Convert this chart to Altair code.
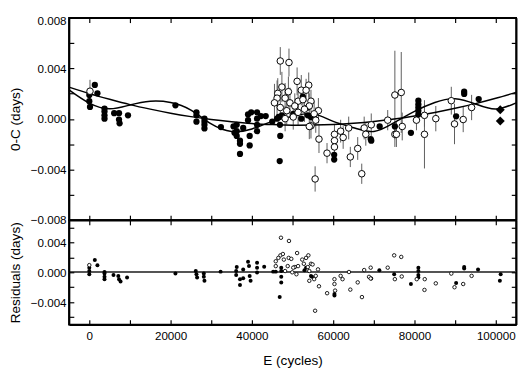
import altair as alt
import pandas as pd

# ---------------- top panel: O-C data ----------------
fill_E = [0, 0, 170, 1360, 2000, 3740, 3740, 3740, 3740, 6120, 7310, 7310, 7450, 9520,
          21190, 26360, 26360, 26360, 28330, 28330, 28330, 28330, 32380, 35480, 35720,
          36260, 36260, 36260, 37070, 37070, 37070, 37860, 39050, 39050, 39450, 39450,
          41260, 41260, 41260, 41260, 39830, 42210, 43400, 45000, 46190, 46600, 46900,
          46980, 46840, 47380, 50170, 52520, 52140, 53740, 53740, 54530, 55310, 60240,
          60240, 69220, 69360, 71430, 75170, 79120, 80950, 80950, 80950, 80950, 80950,
          90240, 92220, 92220, 95790]
fill_OC = [0.00189, 0.00140, 0.00095, 0.00269, 0.00202, 0.00082, 0.00058, 0.00028, 0.00002,
           0.00045, 0.00045, -0.00005, -0.00035, 0.00028, 0.00107, 0.00052, 0.00028, -0.00022,
           0.00002, -0.00022, -0.00047, -0.00075, -0.00065, -0.00060, -0.00110, -0.00047,
           -0.00097, -0.00135, -0.00172, -0.00197, -0.00277, -0.00072, 0.00035, -0.00010,
           -0.00135, -0.00210, 0.00052, 0.00002, -0.00047, -0.00097, 0.00052, 0.00022, 0.00022,
           -0.00022, 0.00002, 0.00015, -0.00047, -0.00135, -0.00334, 0.00028, 0.00040, 0.00177,
           0.00002, 0.00090, 0.00028, 0.00015, 0.00007, -0.00284, -0.00322, -0.00160, -0.00172,
           -0.00060, -0.00060, -0.00110, 0.00144, 0.00114, 0.00090, 0.00065, 0.00035, 0.00020,
           0.00215, 0.00197, 0.00157]

open_E = [170, 46980, 49120, 51120, 53980, 47380, 46360, 48980, 52150, 53330, 46190, 48170,
          45550, 49360, 51360, 52550, 54530, 46980, 50550, 54120, 48570, 51360, 52930, 56360,
          55310, 48170, 50170, 54530, 55710, 54120, 56500, 55550, 58480, 60310, 60310, 60310,
          61830, 62450, 63810, 64210, 66030, 67020, 67620, 68020, 69360, 73410, 75170, 76740,
          75170, 75550, 76980, 80480, 82450, 82450, 85240, 89050, 89840, 91980, 94050]
open_OC = [0.00219, 0.00458, 0.00446, 0.00297, 0.00267, 0.00252, 0.00202, 0.00215, 0.00227,
           0.00227, 0.00164, 0.00164, 0.00127, 0.00127, 0.00140, 0.00152, 0.00140, 0.00090,
           0.00102, 0.00102, 0.00065, 0.00052, 0.00077, 0.00065, 0.00040, 0.00002, 0.00015,
           -0.00055, -0.00010, -0.00060, -0.00160, -0.00475, -0.00271, -0.00122, -0.00172,
           -0.00222, -0.00097, -0.00147, -0.00072, -0.00301, -0.00234, -0.00434, -0.00072,
           -0.00122, -0.00047, -0.00010, 0.00189, 0.00209, -0.00122, -0.00122, -0.00060,
           -0.00010, 0.00028, -0.00122, 0.00002, 0.00144, -0.00040, -0.00005, 0.00090]
open_err = [0.0009, 0.0011, 0.0011, 0.0011, 0.0010, 0.0012, 0.0012, 0.0012, 0.0012, 0.0009,
            0.0014, 0.0012, 0.0015, 0.0012, 0.0010, 0.0010, 0.0009, 0.0010, 0.0010, 0.0010,
            0.0011, 0.0010, 0.0010, 0.0010, 0.0010, 0.0010, 0.0010, 0.0010, 0.0010, 0.0010,
            0.0011, 0.0010, 0.0008, 0.0008, 0.0009, 0.0009, 0.0009, 0.0009, 0.0009, 0.0008,
            0.0009, 0.0008, 0.0009, 0.0009, 0.0009, 0.0008, 0.0035, 0.0032, 0.0010, 0.0010,
            0.0011, 0.0008, 0.0009, 0.0027, 0.0010, 0.0011, 0.0016, 0.0010, 0.0010]

dia_E = [101100, 101100]
dia_OC = [0.00073, -0.00017]

# fitted curves, every 5000 cycles
curve_E = [-5000, 0, 5000, 10000, 15000, 20000, 25000, 30000, 35000, 40000, 45000, 50000,
           55000, 60000, 65000, 70000, 75000, 80000, 85000, 90000, 95000, 100000, 105000]
quad_OC = [0.00251, 0.00200, 0.00155, 0.00113, 0.00077, 0.00045, 0.00018, -0.00005, -0.00023,
           -0.00037, -0.00045, -0.00050, -0.00049, -0.00044, -0.00034, -0.00020, -0.00001,
           0.00023, 0.00051, 0.00084, 0.00121, 0.00163, 0.00210]
ltte_OC = [0.00230, 0.00125, 0.00080, 0.00110, 0.00140, 0.00130, 0.00070, -0.00040, -0.00100,
           -0.00080, -0.00020, 0.00020, 0.00040, -0.00020, -0.00070, -0.00100, -0.00030,
           0.00060, 0.00130, 0.00160, 0.00118, 0.00078, 0.00127]

# ---------------- bottom panel: residuals ----------------
resf_E = [0, 0, 0, 1360, 2000, 3740, 3740, 3740, 3740, 5950, 7140, 7310, 7690, 9290, 21190,
          26190, 26360, 26520, 28170, 28170, 28330, 32300, 36270, 36130, 36130, 37070, 37070,
          37860, 37860, 39050, 39290, 39450, 39680, 41270, 41270, 41270, 43020, 45240, 47220,
          47220, 47220, 47220, 46840, 45870, 52930, 53330, 54530, 54770, 60310, 60310, 69360,
          71360, 75000, 79120, 80950, 80950, 80950, 80950, 90240, 92220, 92220, 95630, 101200,
          101000]
resf_R = [0.00062, 0.00017, -0.00026, 0.00166, 0.00096, 0.00004, -0.00017, -0.00061, -0.00092,
          -0.00035, -0.00048, -0.00092, -0.00122, -0.00070, -0.00017, 0.00017, -0.00026,
          -0.00070, -0.00017, -0.00061, -0.00114, 0.00009, 0.00070, 0.00017, -0.00035, -0.00092,
          -0.00170, 0.00039, -0.00079, 0.00140, 0.00083, -0.00048, -0.00114, 0.00127, 0.00062,
          -0.00004, 0.00075, 0.00009, 0.00062, 0.00017, -0.00061, -0.00135, -0.00332, 0.00009,
          0.00026, 0.00062, -0.00048, -0.00061, -0.00289, -0.00310, -0.00083, 0.00026, -0.00026,
          -0.00157, 0.00062, 0.00017, -0.00035, -0.00070, -0.00144, 0.00070, 0.00052, 0.00039,
          -0.00026, -0.00114]

reso_E = [0, 47150, 49120, 45870, 47030, 47620, 46510, 47860, 49050, 49690, 48810, 48170,
          50550, 49920, 45870, 51120, 50170, 50950, 51360, 52380, 52780, 53330, 53890, 53740,
          54120, 54530, 54930, 54120, 55310, 55710, 56260, 56500, 55550, 58500, 60310, 60310,
          60470, 61830, 62300, 63880, 64210, 66030, 67070, 67620, 68810, 69220, 69220, 73410,
          75000, 76740, 75170, 76860, 80550, 82520, 82450, 85240, 89050, 89840, 91980, 94050]
reso_R = [0.00096, 0.00463, 0.00420, 0.00148, 0.00227, 0.00245, 0.00193, 0.00170, 0.00193,
          0.00180, 0.00083, 0.00017, 0.00070, 0.00000, 0.00083, 0.00258, 0.00062, -0.00026,
          0.00083, 0.00170, 0.00114, 0.00193, 0.00227, 0.00070, 0.00017, 0.00114, 0.00105,
          -0.00114, -0.00092, -0.00048, 0.00039, -0.00187, -0.00515, -0.00280, -0.00092,
          -0.00157, -0.00245, -0.00048, -0.00092, 0.00004, -0.00232, -0.00135, -0.00332,
          0.00030, -0.00061, 0.00062, -0.00083, 0.00062, 0.00227, 0.00206, -0.00092, -0.00056,
          -0.00092, -0.00092, -0.00236, -0.00148, -0.00017, -0.00200, -0.00157, -0.00048]

# axis tick / label values
x_labels = [0, 20000, 40000, 60000, 80000, 100000]
x_ticks = [0, 10000, 20000, 30000, 40000, 50000, 60000, 70000, 80000, 90000, 100000]
y1_labels = [-0.008, -0.004, 0.0, 0.004, 0.008]
y1_ticks = [-0.008, -0.006, -0.004, -0.002, 0.0, 0.002, 0.004, 0.006, 0.008]
y2_labels = [-0.004, 0.0, 0.004]
y2_ticks = [-0.006, -0.004, -0.002, 0.0, 0.002, 0.004, 0.006]

# ---------------- build ----------------
W, H1, H2 = 462, 209, 108
FONT = "Liberation Sans"
xsc = alt.Scale(domain=[-5000, 105000], nice=False, zero=False)
ysc1 = alt.Scale(domain=[-0.008, 0.008], nice=False, zero=False)
ysc2 = alt.Scale(domain=[-0.007, 0.007], nice=False, zero=False)

fill_df = pd.DataFrame({"E": fill_E, "v": fill_OC})
open_df = pd.DataFrame({"E": open_E, "v": open_OC, "err": open_err})
open_df["lo"] = open_df["v"] - open_df["err"]
open_df["hi"] = open_df["v"] + open_df["err"]
dia_df = pd.DataFrame({"E": dia_E, "v": dia_OC})
curve_df = pd.concat([
    pd.DataFrame({"E": curve_E, "v": quad_OC, "fit": "quad"}),
    pd.DataFrame({"E": curve_E, "v": ltte_OC, "fit": "ltte"}),
])
resf_df = pd.DataFrame({"E": resf_E, "v": resf_R})
reso_df = pd.DataFrame({"E": reso_E, "v": reso_R})

# tick-only axes that sit on the four edges (ticks pointing inward) and draw the frame
tick_style = dict(labels=False, domain=True, domainColor="black", domainWidth=1.8,
                  grid=False, ticks=True, tickSize=5, tickColor="black", tickWidth=1.2,
                  zindex=1)
frame = alt.ViewBackground(stroke="black", strokeWidth=1.8, fill="white")


def X():
    return alt.X("E:Q", scale=xsc, axis=None)


def axis_layers(df, ysc, H, ylab, ytk, ytitle, with_xlabels, top_nudge):
    base = alt.Chart(df).mark_point(opacity=0)
    ylab_axis = dict(orient="left", values=ylab, format=".3f", ticks=False,
                     domain=False, grid=False, labelPadding=3, labelFontSize=12,
                     labelColor="black", title=ytitle, titleFontSize=14,
                     titleFontWeight="normal", titleColor="black", titlePadding=8,
                     labelFont=FONT, titleFont=FONT)
    if top_nudge:
        ylab_axis["labelOffset"] = {"condition": {"test": "datum.value > 0.0079", "value": 3},
                                    "value": 0}
    l1 = base.encode(
        x=alt.X("E:Q", scale=xsc, title=None,
                axis=alt.Axis(orient="bottom", offset=-H, values=x_ticks, **tick_style)),
        y=alt.Y("v:Q", scale=ysc, axis=alt.Axis(**ylab_axis)),
    )
    l2 = base.encode(
        x=alt.X("E:Q", scale=xsc, title=None,
                axis=alt.Axis(orient="top", offset=-H, values=x_ticks, **tick_style)),
        y=alt.Y("v:Q", scale=ysc, title=None,
                axis=alt.Axis(orient="right", offset=-W, values=ytk, **tick_style)),
    )
    if with_xlabels:
        xax = alt.X("E:Q", scale=xsc,
                    axis=alt.Axis(orient="bottom", values=x_labels, format="d", ticks=False,
                                  domain=False, grid=False, labelPadding=6, labelFontSize=12,
                                  labelColor="black", title="E (cycles)", titleFontSize=14,
                                  titleFontWeight="normal", titleColor="black",
                                  titlePadding=13, labelFont=FONT, titleFont=FONT))
    else:
        xax = alt.X("E:Q", scale=xsc, axis=None)
    l3 = base.encode(
        x=xax,
        y=alt.Y("v:Q", scale=ysc, title=None,
                axis=alt.Axis(orient="left", offset=-W, values=ytk, **tick_style)),
    )
    return [l1, l2, l3]


Y1 = lambda f="v": alt.Y(f"{f}:Q", scale=ysc1, axis=None)
Y2 = lambda f="v": alt.Y(f"{f}:Q", scale=ysc2, axis=None)

errbars = alt.Chart(open_df).mark_rule(color="#5a5a5a", strokeWidth=1).encode(
    x=X(), y=Y1("lo"), y2="hi")
curves = alt.Chart(curve_df).mark_line(color="black", strokeWidth=1.5,
                                       interpolate="natural").encode(
    x=X(), y=Y1(), detail="fit:N")
filled = alt.Chart(fill_df).mark_circle(color="black", opacity=1, size=42).encode(
    x=X(), y=Y1())
opened = alt.Chart(open_df).mark_point(shape="circle", filled=True, fill="white",
                                       stroke="black", strokeWidth=1, opacity=1,
                                       size=46).encode(x=X(), y=Y1())
diamonds = alt.Chart(dia_df).mark_point(shape="diamond", filled=True, color="black",
                                        opacity=1, size=85).encode(x=X(), y=Y1())

top = alt.layer(
    errbars, curves, filled, opened, diamonds,
    *axis_layers(fill_df, ysc1, H1, y1_labels, y1_ticks, "0-C (days)", False, True)
).resolve_axis(x="independent", y="independent").properties(width=W, height=H1, view=frame)

zero = alt.Chart(resf_df).mark_rule(color="#555555", strokeWidth=1.3).encode(
    y=alt.Y("z:Q", scale=ysc2, axis=None)).transform_calculate(z="0")
res_f = alt.Chart(resf_df).mark_circle(color="black", opacity=1, size=17).encode(
    x=X(), y=Y2())
res_o = alt.Chart(reso_df).mark_point(shape="circle", filled=True, fill="white",
                                      stroke="black", strokeWidth=0.9, opacity=1,
                                      size=13).encode(x=X(), y=Y2())

bottom = alt.layer(
    zero, res_f, res_o,
    *axis_layers(resf_df, ysc2, H2, y2_labels, y2_ticks, "Residuals (days)", True, False)
).resolve_axis(x="independent", y="independent").properties(width=W, height=H2, view=frame)

chart = alt.vconcat(top, bottom, spacing=0, bounds="flush", padding=0).configure(
    font=FONT
).configure_view(stroke="black", strokeWidth=1.8)

chart.save("out.html", embed_options={"renderer": "svg", "actions": False})
